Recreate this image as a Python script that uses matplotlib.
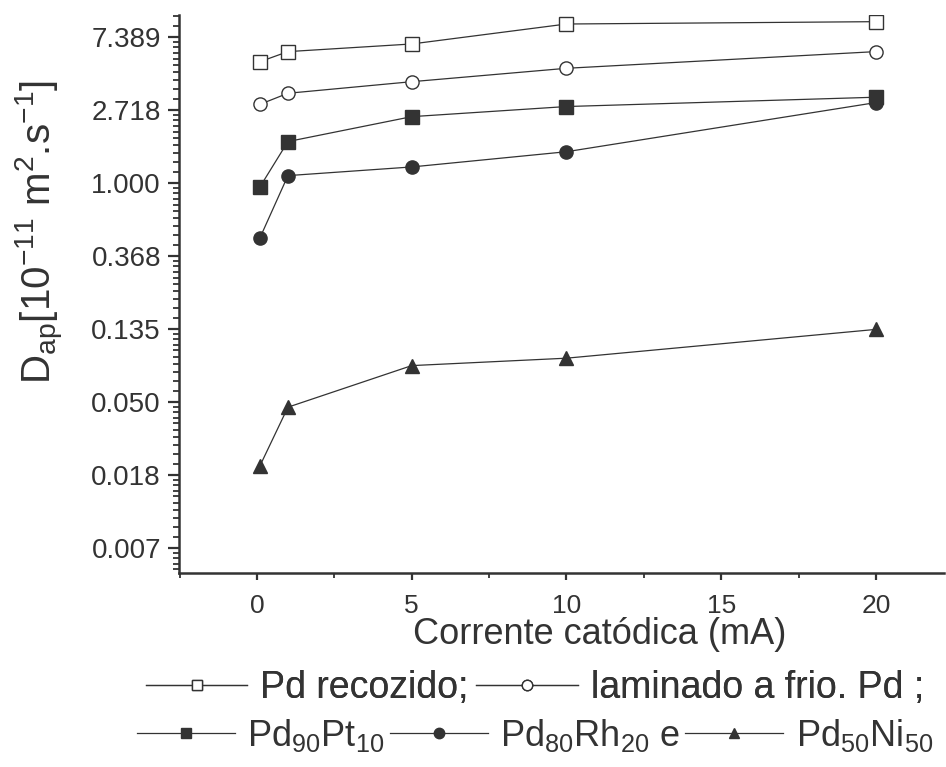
import numpy as np
import matplotlib
matplotlib.use("Agg")
import matplotlib.pyplot as plt
from matplotlib.lines import Line2D
from matplotlib.ticker import FixedLocator, MultipleLocator, NullFormatter

plt.rcParams['font.family'] = ['Liberation Sans', 'DejaVu Sans']
plt.rcParams['mathtext.fontset'] = 'custom'
plt.rcParams['mathtext.rm'] = 'Liberation Sans'
plt.rcParams['mathtext.it'] = 'Liberation Sans:italic'

cor = '#333333'

# corrente catodica (mA)
corrente = [0.1, 1, 5, 10, 20]

# D_ap [1e-11 m2/s]
pd_recozido = [5.29, 6.07, 6.74, 8.86, 9.15]
pd_laminado = [2.95, 3.43, 4.02, 4.83, 6.07]
pd90pt10 = [0.954, 1.77, 2.49, 2.86, 3.25]
pd80rh20 = [0.475, 1.11, 1.25, 1.54, 3.02]
pd50ni50 = [0.0209, 0.0465, 0.0822, 0.0910, 0.135]

# ticks em potencias de e
expoentes = [-5, -4, -3, -2, -1, 0, 1, 2]
rotulos_y = ['0.007', '0.018', '0.050', '0.135', '0.368', '1.000', '2.718', '7.389']

series = [
    (pd_recozido, 's', 'white'),
    (pd_laminado, 'o', 'white'),
    (pd90pt10, 's', cor),
    (pd80rh20, 'o', cor),
    (pd50ni50, '^', cor),
]

fig = plt.figure(figsize=(9.46, 7.67), dpi=100)
ax = fig.add_axes([179/946, 1 - 573/767, (944 - 179)/946, (573 - 15)/767])

for ys, mk, fc in series:
    ax.plot(corrente, ys, color=cor, lw=0.9, marker=mk, markersize=9.5,
            markerfacecolor=fc, markeredgecolor=cor, markeredgewidth=1.0)

ax.set_yscale('log')
ax.set_xlim(-2.52, 22.2)
ax.set_ylim(np.exp(-5.34), np.exp(2.305))

ax.yaxis.set_major_locator(FixedLocator(np.exp(expoentes)))
ax.set_yticklabels(rotulos_y)
menores = []
for n in range(-6, 3):
    a, b = np.exp(n), np.exp(n + 1)
    for k in range(1, 10):
        menores.append(a + k * (b - a) / 10)
ax.yaxis.set_minor_locator(FixedLocator(menores))
ax.yaxis.set_minor_formatter(NullFormatter())

ax.xaxis.set_major_locator(MultipleLocator(5))
ax.xaxis.set_minor_locator(MultipleLocator(2.5))

for s in ['top', 'right']:
    ax.spines[s].set_visible(False)
for s in ['left', 'bottom']:
    ax.spines[s].set_color(cor)
    ax.spines[s].set_linewidth(1.8)

ax.tick_params(axis='y', which='major', length=8, width=1.6, color=cor,
               labelsize=20, labelcolor=cor, pad=5)
ax.tick_params(axis='y', which='minor', length=4.5, width=1.3, color=cor)
ax.tick_params(axis='x', which='major', length=5, width=1.6, color=cor,
               labelsize=19, labelcolor=cor, pad=10)
ax.tick_params(axis='x', which='minor', length=3.5, width=1.3, color=cor)

fig.text(40/946, 1 - 232/767,
         r'D$_{\mathregular{ap}}$[10$^{\mathregular{-11}}$ m$^{\mathregular{2}}$.s$^{\mathregular{-1}}$]',
         rotation=90, ha='center', va='center', fontsize=29, color=cor)
fig.text(600/946, 1 - 635/767, 'Corrente catódica (mA)',
         ha='center', va='center', fontsize=26, color=cor)

# legenda em duas linhas
def handle(mk, fc):
    return Line2D([], [], color=cor, lw=0.9, marker=mk, markersize=7.5,
                  markerfacecolor=fc, markeredgecolor=cor, markeredgewidth=1.0)

h = [handle(mk, fc) for _, mk, fc in series]
linha1 = ['Pd recozido;', 'laminado a frio. Pd ;']
linha2 = [r'Pd$_{\mathregular{90}}$Pt$_{\mathregular{10}}$',
          r'Pd$_{\mathregular{80}}$Rh$_{\mathregular{20}}$ e',
          r'Pd$_{\mathregular{50}}$Ni$_{\mathregular{50}}$']

leg1 = fig.legend(h[:2], linha1, loc='center', bbox_to_anchor=(535/946, 1 - 688/767),
                  ncol=2, frameon=False, fontsize=27, handlelength=2.7,
                  handletextpad=0.35, columnspacing=0.2, labelcolor=cor,
                  borderpad=0, borderaxespad=0)
leg2 = fig.legend(h[2:], linha2, loc='center', bbox_to_anchor=(535/946, 1 - 735/767),
                  ncol=3, frameon=False, fontsize=26, handlelength=2.7,
                  handletextpad=0.35, columnspacing=0.15, labelcolor=cor,
                  borderpad=0, borderaxespad=0)
fig.add_artist(leg1)

fig.savefig('out.png', dpi=100)
